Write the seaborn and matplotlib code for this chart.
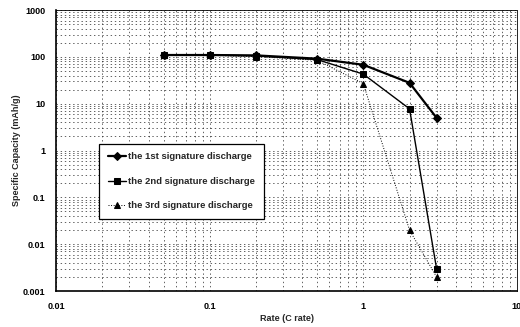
import matplotlib
matplotlib.use("Agg")
import matplotlib.pyplot as plt
import seaborn as sns
import pandas as pd
from matplotlib.ticker import LogLocator, FixedLocator, NullFormatter

rates = [0.05, 0.1, 0.2, 0.5, 1, 2, 3]
cap_1st = [110, 110, 108, 92, 68, 28, 5.0]
cap_2nd = [112, 110, 105, 88, 43, 7.8, 0.003]
cap_3rd = [110, 108, 102, 85, 27, 0.02, 0.002]
labels = ["the 1st signature discharge", "the 2nd signature discharge", "the 3rd signature discharge"]
xticks = [0.01, 0.1, 1, 10]
xticklabels = ["0.01", "0.1", "1", "10"]
yticks = [0.001, 0.01, 0.1, 1, 10, 100, 1000]
yticklabels = ["0.001", "0.01", "0.1", "1", "10", "100", "1000"]

df = pd.DataFrame({
    "rate": rates * 3,
    "cap": cap_1st + cap_2nd + cap_3rd,
    "series": [labels[0]] * len(rates) + [labels[1]] * len(rates) + [labels[2]] * len(rates),
})

sns.set_style("white")
plt.rcParams["font.family"] = ["Liberation Sans", "DejaVu Sans"]
plt.rcParams["font.weight"] = "bold"

fig = plt.figure(figsize=(5.2, 3.27), dpi=100)
ax = fig.add_axes([0.108, 0.110, 0.886, 0.859])

styles = [
    dict(marker="D", markersize=4.2, linewidth=1.6, linestyle="-"),
    dict(marker="s", markersize=4.2, linewidth=1.0, linestyle="-"),
    dict(marker="^", markersize=4.2, linewidth=0.7, linestyle=":"),
]
for lab, st in zip(labels, styles):
    sns.lineplot(data=df[df["series"] == lab], x="rate", y="cap", ax=ax,
                 color="black", label=lab, markeredgecolor="black", **st)

ax.set_xscale("log")
ax.set_yscale("log")
ax.set_xlim(0.01, 10)
ax.set_ylim(0.001, 1000)

ax.xaxis.set_major_locator(FixedLocator(xticks))
ax.set_xticklabels(xticklabels)
ax.yaxis.set_major_locator(FixedLocator(yticks))
ax.set_yticklabels(yticklabels)
ax.xaxis.set_minor_locator(LogLocator(base=10, subs=range(2, 10)))
ax.yaxis.set_minor_locator(LogLocator(base=10, subs=range(2, 10)))
ax.xaxis.set_minor_formatter(NullFormatter())
ax.yaxis.set_minor_formatter(NullFormatter())

ax.grid(True, which="both", color="#222222", linestyle=(0, (2, 4)), linewidth=0.5)
ax.set_axisbelow(True)

ax.tick_params(axis="both", which="major", direction="in", length=4, width=0.8,
               labelsize=6.5, colors="black", pad=8)
ax.tick_params(axis="both", which="minor", direction="in", length=2.5, width=0.6)
for lbl in ax.get_xticklabels() + ax.get_yticklabels():
    lbl.set_fontweight("bold")

for side in ["left", "bottom"]:
    ax.spines[side].set_linewidth(1.2)
    ax.spines[side].set_color("black")
for side in ["top", "right"]:
    ax.spines[side].set_linewidth(0.6)
    ax.spines[side].set_color("black")
    ax.spines[side].set_linestyle((0, (1, 1)))

ax.set_xlabel("Rate (C rate)", fontsize=6.5, fontweight="bold", labelpad=2)
ax.set_ylabel("Specific Capacity (mAh/g)", fontsize=6.5, fontweight="bold", labelpad=1)

leg = ax.legend(loc="lower left", bbox_to_anchor=(0.083, 0.24), fontsize=6.8,
                frameon=True, fancybox=False, framealpha=1, edgecolor="black",
                labelspacing=1.65, handlelength=1.9, handletextpad=0.3,
                borderpad=0.9, prop={"weight": "bold", "size": 6.8})
leg.get_frame().set_linewidth(0.9)

fig.savefig("out.png", dpi=100)
